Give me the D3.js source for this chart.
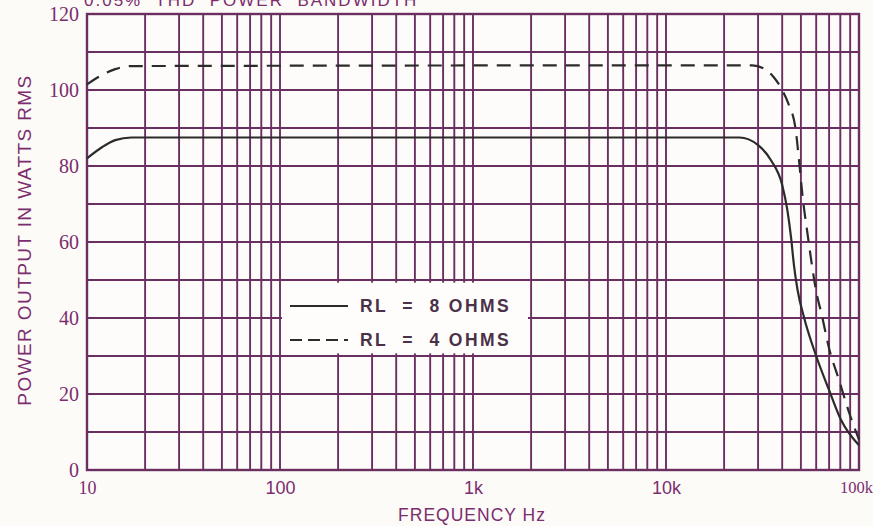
<!DOCTYPE html>
<html><head><meta charset="utf-8">
<script src="https://cdn.jsdelivr.net/npm/d3@7"></script>
<style>
html,body{margin:0;padding:0;background:#fdfbf8;}
svg{display:block;}
</style></head>
<body>
<svg id="chart" width="873" height="526"></svg>
<script>
// ---- data ----
const freq8 = [10, 12, 14, 17, 24000, 30000, 35000, 40000, 42500, 44500, 46000, 48000, 52000, 60000, 70000, 81000, 100000];
const watts8 = [82, 85, 86.8, 87.5, 87.5, 85.5, 81.5, 75, 68.5, 61, 54, 47.5, 40, 30, 21, 13, 6.5];
const freq4 = [10, 12, 14, 17, 28000, 32000, 36000, 40000, 43000, 47000, 49000, 51000, 54000, 57000, 60000, 64000, 70000, 79000, 89000, 100000];
const watts4 = [101.5, 104, 105.5, 106.3, 106.5, 105.7, 103.5, 100, 96.5, 89.5, 81, 72, 62.5, 54, 47, 41, 32, 23.5, 15, 8];
const yTicks = [0, 20, 40, 60, 80, 100, 120];
const xTicks = [10, 100, 1000, 10000, 100000];
const xTickLabels = ["10", "100", "1k", "10k", "100k"];
const seriesNames = ["RL  =  8 OHMS", "RL  =  4 OHMS"];
const titleText = "0.05%  THD  POWER  BANDWIDTH";
const xTitle = "FREQUENCY Hz";
const yTitle = "POWER OUTPUT IN WATTS RMS";

// ---- drawing ----
const svg = d3.select("#chart");
const L = 87, R = 859, T = 14, B = 470;
const x = d3.scaleLog().domain([10, 100000]).range([L, R]);
const y = d3.scaleLinear().domain([0, 120]).range([B, T]);
const gridColor = "#6a2f60";
const textColor = "#7b2d6e";

svg.append("rect").attr("x", L).attr("y", T).attr("width", R - L).attr("height", B - T).attr("fill", "#fefcfa");

// vertical grid lines
const vLines = [];
for (let d = 10; d < 100000; d *= 10) for (let m = 1; m <= 9; m++) vLines.push(d * m);
vLines.push(100000);
svg.append("g").selectAll("line").data(vLines).join("line")
  .attr("x1", d => x(d)).attr("x2", d => x(d)).attr("y1", T).attr("y2", B)
  .attr("stroke", gridColor).attr("stroke-width", 1.9);
// horizontal grid lines
svg.append("g").selectAll("line").data(d3.range(0, 121, 10)).join("line")
  .attr("x1", L).attr("x2", R).attr("y1", d => y(d)).attr("y2", d => y(d))
  .attr("stroke", gridColor).attr("stroke-width", 1.9);
// border
svg.append("rect").attr("x", L).attr("y", T).attr("width", R - L).attr("height", B - T)
  .attr("fill", "none").attr("stroke", gridColor).attr("stroke-width", 2.4);

// legend background
svg.append("rect").attr("x", 282).attr("y", y(49.3)).attr("width", 246).attr("height", y(30.7) - y(49.3)).attr("fill", "#fefdfb");

// curves
const line = d3.line().x(d => x(d[0])).y(d => y(d[1])).curve(d3.curveMonotoneX);
svg.append("path").datum(freq8.map((f, i) => [f, watts8[i]])).attr("d", line)
  .attr("fill", "none").attr("stroke", "#2b2b2b").attr("stroke-width", 2.2);
svg.append("path").datum(freq4.map((f, i) => [f, watts4[i]])).attr("d", line)
  .attr("fill", "none").attr("stroke", "#2b2b2b").attr("stroke-width", 2.2).attr("stroke-dasharray", "14,9");

// legend
const lg = svg.append("g");
seriesNames.forEach((name, i) => {
  const yy = 306 + i * 34;
  lg.append("line").attr("x1", 290).attr("x2", 348).attr("y1", yy).attr("y2", yy)
    .attr("stroke", "#2b2b2b").attr("stroke-width", 2).attr("stroke-dasharray", i ? "12,6" : null);
  lg.append("text").attr("x", 360).attr("y", yy + 6).text(name)
    .attr("font-family", "Liberation Sans, Arial, sans-serif").attr("font-weight", "bold").attr("font-size", 17.5)
    .attr("letter-spacing", 2.4).attr("fill", "#4a3148").style("white-space", "pre");
});

// y axis
const ya = svg.append("g").attr("transform", `translate(${L},0)`)
  .call(d3.axisLeft(y).tickValues(yTicks).tickSize(0).tickPadding(8));
ya.select(".domain").remove();
ya.selectAll("text").attr("font-family", "Liberation Serif, Times New Roman, serif").attr("font-size", 20).attr("fill", textColor);

// x axis
const xa = svg.append("g").attr("transform", `translate(0,${B})`)
  .call(d3.axisBottom(x).tickValues(xTicks).tickFormat((d, i) => xTickLabels[i]).tickSize(0).tickPadding(11));
xa.select(".domain").remove();
xa.selectAll("text").attr("fill", textColor)
  .attr("font-family", (d, i) => (i === 0 || i === 4) ? "Liberation Serif, serif" : "Liberation Sans, Arial, sans-serif")
  .attr("font-size", (d, i) => i === 4 ? 16.5 : 18)
  .attr("dx", (d, i) => i === 4 ? -3 : 0);

// titles
svg.append("text").attr("x", 472).attr("y", 521).attr("text-anchor", "middle").text(xTitle)
  .attr("font-family", "Liberation Sans, Arial, sans-serif").attr("font-size", 17.5).attr("letter-spacing", 1).attr("fill", textColor);
svg.append("text").attr("transform", "translate(31,240) rotate(-90)").attr("text-anchor", "middle").text(yTitle)
  .attr("font-family", "Liberation Sans, Arial, sans-serif").attr("font-size", 19).attr("letter-spacing", 1.4).attr("fill", textColor);
svg.append("text").attr("x", 84).attr("y", 6).text(titleText).style("white-space", "pre")
  .attr("font-family", "Liberation Sans, Arial, sans-serif").attr("font-size", 17).attr("letter-spacing", 2).attr("fill", textColor);
</script>
</body></html>
